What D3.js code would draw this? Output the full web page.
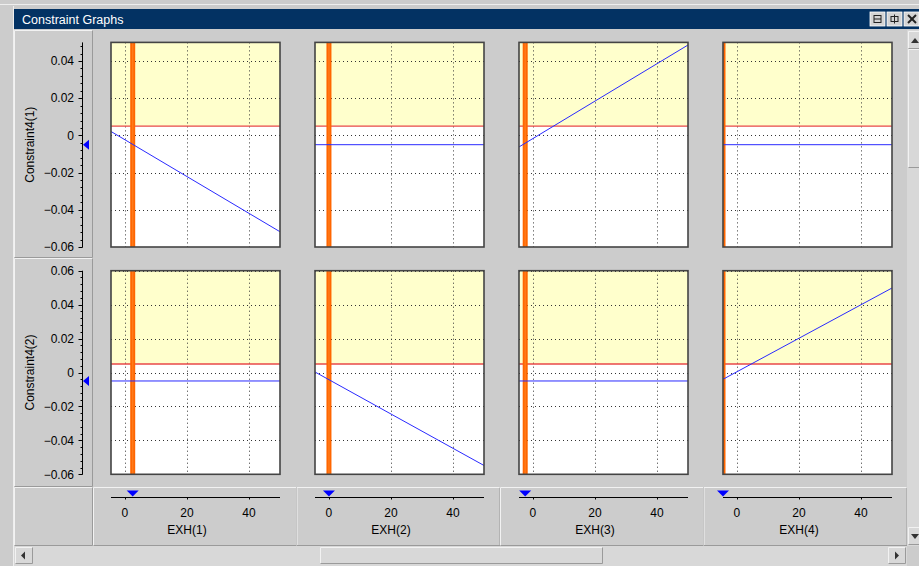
<!DOCTYPE html>
<html lang="en">
<head>
<meta charset="UTF-8">
<title>Constraint Graphs</title>
<script src="https://cdn.jsdelivr.net/npm/d3@7"></script>
<style>
  html, body { margin: 0; padding: 0; background: #cccccc; overflow: hidden; }
  svg { display: block; font-family: "Liberation Sans", Arial, sans-serif; }
</style>
</head>
<body>
<div id="chart"></div>
<script>
    // Variables (columns) and constraints (rows)
    const exhNames = ["EXH(1)", "EXH(2)", "EXH(3)", "EXH(4)"];
    const exhCurrent = [2.5, 0, -2.5, -4.5];
    const xDomain = [-4.5, 50];
    const xTicks = [0, 20, 40];

    const constraintNames = ["Constraint4(1)", "Constraint4(2)"];
    const yDomains = [[-0.06, 0.05], [-0.06, 0.06]];
    const yTicks = [
        [0.04, 0.02, 0, -0.02, -0.04, -0.06],
        [0.06, 0.04, 0.02, 0, -0.02, -0.04, -0.06]
    ];
    const constraintLimit = [0.005, 0.005];
    const constraintCurrent = [-0.005, -0.005];

    // constraint value at the left / right edge of each panel (x = -4.5 and x = 50)
    const row1Start = [0.0021, -0.005, -0.0062, -0.005];
    const row1End = [-0.0518, -0.005, 0.0486, -0.005];
    const row2Start = [-0.005, 0.0003, -0.005, -0.004];
    const row2End = [-0.005, -0.0548, -0.005, 0.0498];
    const rowStart = [row1Start, row2Start];
    const rowEnd = [row1End, row2End];

    // layout
    const W = 919, H = 566;
    const panelLeft0 = 111, colPitch = 204, panelW = 169;
    const rowTop = [42.4, 270.7], rowBottom = [247, 474.3];

    const svg = d3.select("#chart").append("svg")
        .attr("width", W).attr("height", H);

    // window chrome
    svg.append("rect").attr("width", W).attr("height", H).attr("fill", "#cccccc");
    svg.append("line").attr("x1", 0).attr("x2", W).attr("y1", 4.5).attr("y2", 4.5)
        .attr("stroke", "#eeeeee");
    svg.append("line").attr("x1", 13.5).attr("x2", 13.5).attr("y1", 6).attr("y2", H)
        .attr("stroke", "#eeeeee");
    svg.append("rect").attr("x", 14).attr("y", 9).attr("width", W - 14).attr("height", 20)
        .attr("fill", "#033263");
    svg.append("text").attr("x", 22).attr("y", 23.5).attr("fill", "#ffffff")
        .attr("font-size", 12.5).text("Constraint Graphs");

    // title bar buttons
    [870, 887, 904].forEach((bx, i) => {
        svg.append("rect").attr("x", bx).attr("y", 12).attr("width", 15).attr("height", 14)
            .attr("fill", "#d4d4d4").attr("stroke", "#ffffff").attr("stroke-width", 0.8);
        const g = svg.append("g").attr("stroke", "#222").attr("fill", "none");
        if (i === 0) {
            g.append("rect").attr("x", bx + 4).attr("y", 15.5).attr("width", 7).attr("height", 7);
            g.append("line").attr("x1", bx + 4).attr("x2", bx + 11).attr("y1", 19).attr("y2", 19);
        } else if (i === 1) {
            g.append("rect").attr("x", bx + 4).attr("y", 16.5).attr("width", 7).attr("height", 5);
            g.append("line").attr("x1", bx + 7.5).attr("x2", bx + 7.5).attr("y1", 14.5).attr("y2", 23.5);
        } else {
            g.attr("stroke-width", 2);
            g.append("line").attr("x1", bx + 4).attr("x2", bx + 12).attr("y1", 15).attr("y2", 23);
            g.append("line").attr("x1", bx + 12).attr("x2", bx + 4).attr("y1", 15).attr("y2", 23);
        }
    });

    // left label column and bottom axis strip
    function bevel(x, y, w, h) {
        svg.append("path").attr("d", `M${x},${y + h}V${y}H${x + w}`)
            .attr("stroke", "#f2f2f2").attr("fill", "none");
        svg.append("path").attr("d", `M${x + w},${y}V${y + h}H${x}`)
            .attr("stroke", "#9a9a9a").attr("fill", "none");
    }
    bevel(14.5, 30.5, 78, 227);
    bevel(14.5, 258.5, 78, 228);
    bevel(14.5, 487.5, 78, 58);
    exhNames.forEach((n, i) => bevel(93.5 + i * 203.5, 487.5, 203, 58));

    // horizontal scrollbar
    svg.append("rect").attr("x", 14).attr("y", 546).attr("width", 893).attr("height", 20).attr("fill", "#d8d8d8");
    bevel(15.5, 547.5, 17, 16);
    svg.append("path").attr("d", "M21,555.5L25,551.5V559.5Z").attr("fill", "#333");
    bevel(320.5, 547.5, 282, 16);
    bevel(888.5, 547.5, 17, 16);
    svg.append("path").attr("d", "M899,555.5L895,551.5V559.5Z").attr("fill", "#333");

    // vertical scrollbar
    svg.append("rect").attr("x", 907).attr("y", 30).attr("width", 12).attr("height", 516).attr("fill", "#d8d8d8");
    bevel(908.5, 31.5, 12, 17);
    svg.append("path").attr("d", "M911,43L915,38L919,43Z").attr("fill", "#333");
    bevel(908.5, 49.5, 12, 118);
    bevel(908.5, 527.5, 12, 17);
    svg.append("path").attr("d", "M911,534L915,539L919,534Z").attr("fill", "#333");

    const defs = svg.append("defs");

    constraintNames.forEach((cName, r) => {
        const y = d3.scaleLinear().domain(yDomains[r]).range([rowBottom[r], rowTop[r]]);

        // y axis on the left column
        const axisX = 82.5;
        const ya = svg.append("g").attr("class", "y-axis");
        ya.append("line").attr("x1", axisX).attr("x2", axisX)
            .attr("y1", rowTop[r]).attr("y2", rowBottom[r]).attr("stroke", "#000");
        const minor = d3.range(yDomains[r][0], yDomains[r][1] + 1e-9, 0.004);
        ya.selectAll(".minor").data(minor).enter().append("line")
            .attr("x1", axisX - 2).attr("x2", axisX)
            .attr("y1", d => Math.round(y(d)) + 0.5).attr("y2", d => Math.round(y(d)) + 0.5)
            .attr("stroke", "#000");
        ya.selectAll(".major").data(yTicks[r]).enter().append("line")
            .attr("x1", axisX - 4).attr("x2", axisX)
            .attr("y1", d => Math.round(y(d)) + 0.5).attr("y2", d => Math.round(y(d)) + 0.5)
            .attr("stroke", "#000");
        ya.selectAll("text").data(yTicks[r]).enter().append("text")
            .attr("x", 74).attr("y", d => y(d)).attr("dy", "0.35em")
            .attr("text-anchor", "end").attr("font-size", 12).attr("fill", "#000")
            .text(d => d === 0 ? "0" : d3.format(".2f")(d));
        const midY = (rowTop[r] + rowBottom[r]) / 2;
        ya.append("text").attr("transform", `translate(34,${midY}) rotate(-90)`)
            .attr("text-anchor", "middle").attr("font-size", 12).text(cName);
        const cy = y(constraintCurrent[r]);
        ya.append("path").attr("d", `M83,${cy}L89,${cy - 5}V${cy + 5}Z`).attr("fill", "#0000ff");

        exhNames.forEach((xName, c) => {
            const p0 = panelLeft0 + c * colPitch;
            const x = d3.scaleLinear().domain(xDomain).range([p0, p0 + panelW]);
            const top = rowTop[r], bottom = rowBottom[r];
            const clipId = `clip-${r}-${c}`;
            defs.append("clipPath").attr("id", clipId).append("rect")
                .attr("x", p0).attr("y", top).attr("width", panelW).attr("height", bottom - top);

            const g = svg.append("g").attr("clip-path", `url(#${clipId})`);
            g.append("rect").attr("x", p0).attr("y", top).attr("width", panelW)
                .attr("height", bottom - top).attr("fill", "#ffffff");
            g.append("rect").attr("x", p0).attr("y", top).attr("width", panelW)
                .attr("height", y(constraintLimit[r]) - top).attr("fill", "#ffffcc");

            // dotted grid
            g.selectAll(".vgrid").data(xTicks).enter().append("line")
                .attr("x1", d => Math.round(x(d)) + 0.5).attr("x2", d => Math.round(x(d)) + 0.5)
                .attr("y1", top).attr("y2", bottom)
                .attr("stroke", "#333").attr("stroke-dasharray", "1 3");
            g.selectAll(".hgrid").data(yTicks[r]).enter().append("line")
                .attr("x1", p0).attr("x2", p0 + panelW)
                .attr("y1", d => Math.round(y(d)) + 0.5).attr("y2", d => Math.round(y(d)) + 0.5)
                .attr("stroke", "#333").attr("stroke-dasharray", "1 3");

            // limit line
            g.append("line").attr("x1", p0).attr("x2", p0 + panelW)
                .attr("y1", y(constraintLimit[r])).attr("y2", y(constraintLimit[r]))
                .attr("stroke", "#e84848").attr("stroke-width", 1.3);

            // current value bar
            const cx = x(exhCurrent[c]);
            g.append("rect").attr("x", cx - 2.5).attr("y", top).attr("width", 5)
                .attr("height", bottom - top).attr("fill", "#ff6600");
            g.append("line").attr("x1", cx).attr("x2", cx).attr("y1", top).attr("y2", bottom)
                .attr("stroke", "#ff7a1a").attr("stroke-width", 1.5);

            // constraint response
            const pts = [[xDomain[0], rowStart[r][c]], [xDomain[1], rowEnd[r][c]]];
            g.append("path").datum(pts)
                .attr("d", d3.line().x(d => x(d[0])).y(d => y(d[1])))
                .attr("fill", "none").attr("stroke", "#2a2aff").attr("stroke-width", 1);

            // frame
            svg.append("rect").attr("x", p0).attr("y", top).attr("width", panelW)
                .attr("height", bottom - top).attr("fill", "none")
                .attr("stroke", "#444").attr("stroke-width", 1.6);

            // bottom axis (once per column)
            if (r === 0) {
                const ay = 497.5;
                const xa = svg.append("g");
                xa.append("line").attr("x1", p0).attr("x2", p0 + panelW)
                    .attr("y1", ay).attr("y2", ay).attr("stroke", "#000");
                xa.selectAll("line.t").data(xTicks).enter().append("line")
                    .attr("x1", d => Math.round(x(d)) + 0.5).attr("x2", d => Math.round(x(d)) + 0.5)
                    .attr("y1", ay).attr("y2", ay + 2).attr("stroke", "#000");
                xa.selectAll("text.t").data(xTicks).enter().append("text")
                    .attr("x", d => x(d)).attr("y", 517).attr("text-anchor", "middle")
                    .attr("font-size", 12).text(d => d);
                xa.append("text").attr("x", x(xTicks[1])).attr("y", 534)
                    .attr("text-anchor", "middle").attr("font-size", 12).text(xName);
                const tx = x(exhCurrent[c]);
                xa.append("path").attr("d", `M${tx},${ay - 1}L${tx - 6},${ay - 7}H${tx + 6}Z`)
                    .attr("fill", "#0000ff");
            }
        });
    });
</script>
</body>
</html>
